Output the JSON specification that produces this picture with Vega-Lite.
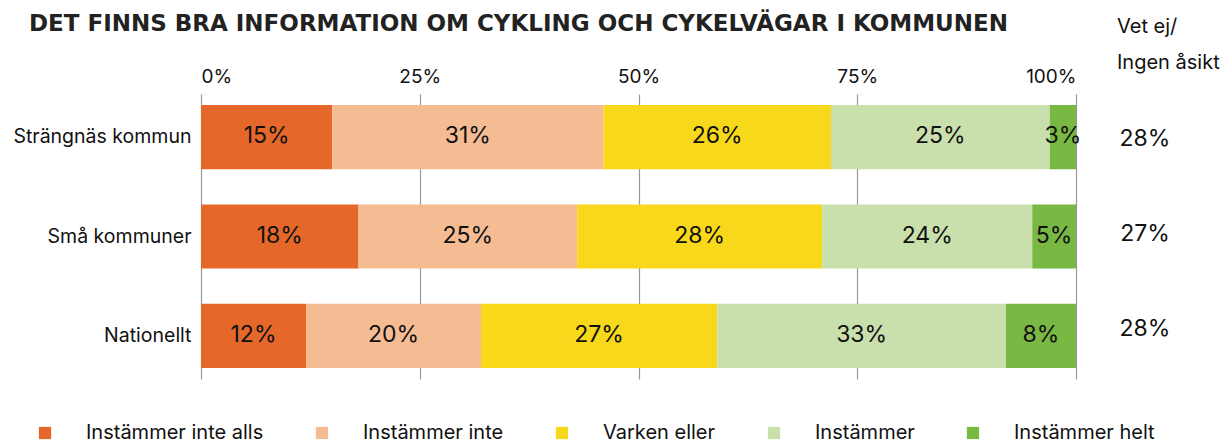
{
  "$schema": "https://vega.github.io/schema/vega-lite/v6.json",
  "padding": {"left": 12, "top": 13, "right": 0, "bottom": 0},
  "config": {"font": "Inter", "view": {"stroke": null}},
  "bounds": "flush",
  "spacing": 41,
  "datasets": {
    "main": [
      {"group": "Strängnäs kommun", "answer": "Instämmer inte alls", "order": 1, "value": 0.15},
      {"group": "Strängnäs kommun", "answer": "Instämmer inte", "order": 2, "value": 0.31},
      {"group": "Strängnäs kommun", "answer": "Varken eller", "order": 3, "value": 0.26},
      {"group": "Strängnäs kommun", "answer": "Instämmer", "order": 4, "value": 0.25},
      {"group": "Strängnäs kommun", "answer": "Instämmer helt", "order": 5, "value": 0.03},
      {"group": "Små kommuner", "answer": "Instämmer inte alls", "order": 1, "value": 0.18},
      {"group": "Små kommuner", "answer": "Instämmer inte", "order": 2, "value": 0.25},
      {"group": "Små kommuner", "answer": "Varken eller", "order": 3, "value": 0.28},
      {"group": "Små kommuner", "answer": "Instämmer", "order": 4, "value": 0.24},
      {"group": "Små kommuner", "answer": "Instämmer helt", "order": 5, "value": 0.05},
      {"group": "Nationellt", "answer": "Instämmer inte alls", "order": 1, "value": 0.12},
      {"group": "Nationellt", "answer": "Instämmer inte", "order": 2, "value": 0.20},
      {"group": "Nationellt", "answer": "Varken eller", "order": 3, "value": 0.27},
      {"group": "Nationellt", "answer": "Instämmer", "order": 4, "value": 0.33},
      {"group": "Nationellt", "answer": "Instämmer helt", "order": 5, "value": 0.08}
    ],
    "vetej": [
      {"group": "Strängnäs kommun", "vetej": 0.28},
      {"group": "Små kommuner", "vetej": 0.27},
      {"group": "Nationellt", "vetej": 0.28}
    ]
  },
  "hconcat": [
    {
      "width": 875,
      "height": 285,
      "data": {"name": "main"},
      "title": {
        "text": "DET FINNS BRA INFORMATION OM CYKLING OCH CYKELVÄGAR I KOMMUNEN",
        "anchor": "start",
        "frame": "bounds",
        "dx": 16,
        "font": "DejaVu Sans",
        "fontSize": 23,
        "fontWeight": "bold",
        "color": "#222222",
        "offset": 31
      },
      "encoding": {
        "y": {
          "field": "group",
          "type": "nominal",
          "sort": ["Strängnäs kommun", "Små kommuner", "Nationellt"],
          "scale": {"paddingInner": 0.354, "paddingOuter": 0.11},
          "axis": {"title": null, "domain": false, "ticks": false, "labelFontSize": 19.5, "labelPadding": 10, "labelColor": "#111111", "labelLimit": 300}
        }
      },
      "layer": [
        {
          "mark": {"type": "bar"},
          "encoding": {
            "x": {
              "field": "value",
              "type": "quantitative",
              "stack": "normalize",
              "scale": {"domain": [0, 1]},
              "axis": {"orient": "top", "format": ".0%", "values": [0, 0.25, 0.5, 0.75, 1], "title": null, "domain": false, "ticks": false, "grid": true, "gridColor": "#999999", "gridWidth": 1.2, "labelFontSize": 19, "labelPadding": 8, "labelColor": "#111111"}
            },
            "color": {
              "field": "answer",
              "type": "nominal",
              "scale": {
                "domain": ["Instämmer inte alls", "Instämmer inte", "Varken eller", "Instämmer", "Instämmer helt"],
                "range": ["#E5682A", "#F5BC94", "#F8D81A", "#C9E0AC", "#7AB844"]
              },
              "legend": {
                "orient": "none",
                "direction": "horizontal",
                "legendX": -166,
                "legendY": 329,
                "title": null,
                "symbolType": "square",
                "symbolSize": 150,
                "symbolStrokeWidth": 0,
                "labelOffset": 31,
                "columnPadding": 48,
                "labelFontSize": 20,
                "labelLimit": 400,
                "labelColor": "#111111"
              }
            },
            "order": {"field": "order", "type": "quantitative"}
          }
        },
        {
          "mark": {"type": "text", "fontSize": 23, "color": "#111111", "dy": -1},
          "encoding": {
            "x": {"field": "value", "type": "quantitative", "stack": "normalize", "bandPosition": 0.5},
            "text": {"field": "value", "type": "quantitative", "format": ".0%"},
            "order": {"field": "order", "type": "quantitative"}
          }
        }
      ]
    },
    {
      "width": 56,
      "height": 285,
      "data": {"name": "vetej"},
      "title": {
        "text": ["Vet ej/", "Ingen åsikt"],
        "anchor": "start",
        "fontSize": 20,
        "fontWeight": "normal",
        "lineHeight": 36,
        "color": "#111111",
        "offset": 21
      },
      "mark": {"type": "text", "fontSize": 23, "color": "#111111", "dy": -3},
      "encoding": {
        "y": {
          "field": "group",
          "type": "nominal",
          "sort": ["Strängnäs kommun", "Små kommuner", "Nationellt"],
          "scale": {"paddingInner": 0.354, "paddingOuter": 0.11},
          "axis": null
        },
        "text": {"field": "vetej", "type": "quantitative", "format": ".0%"}
      }
    }
  ]
}
